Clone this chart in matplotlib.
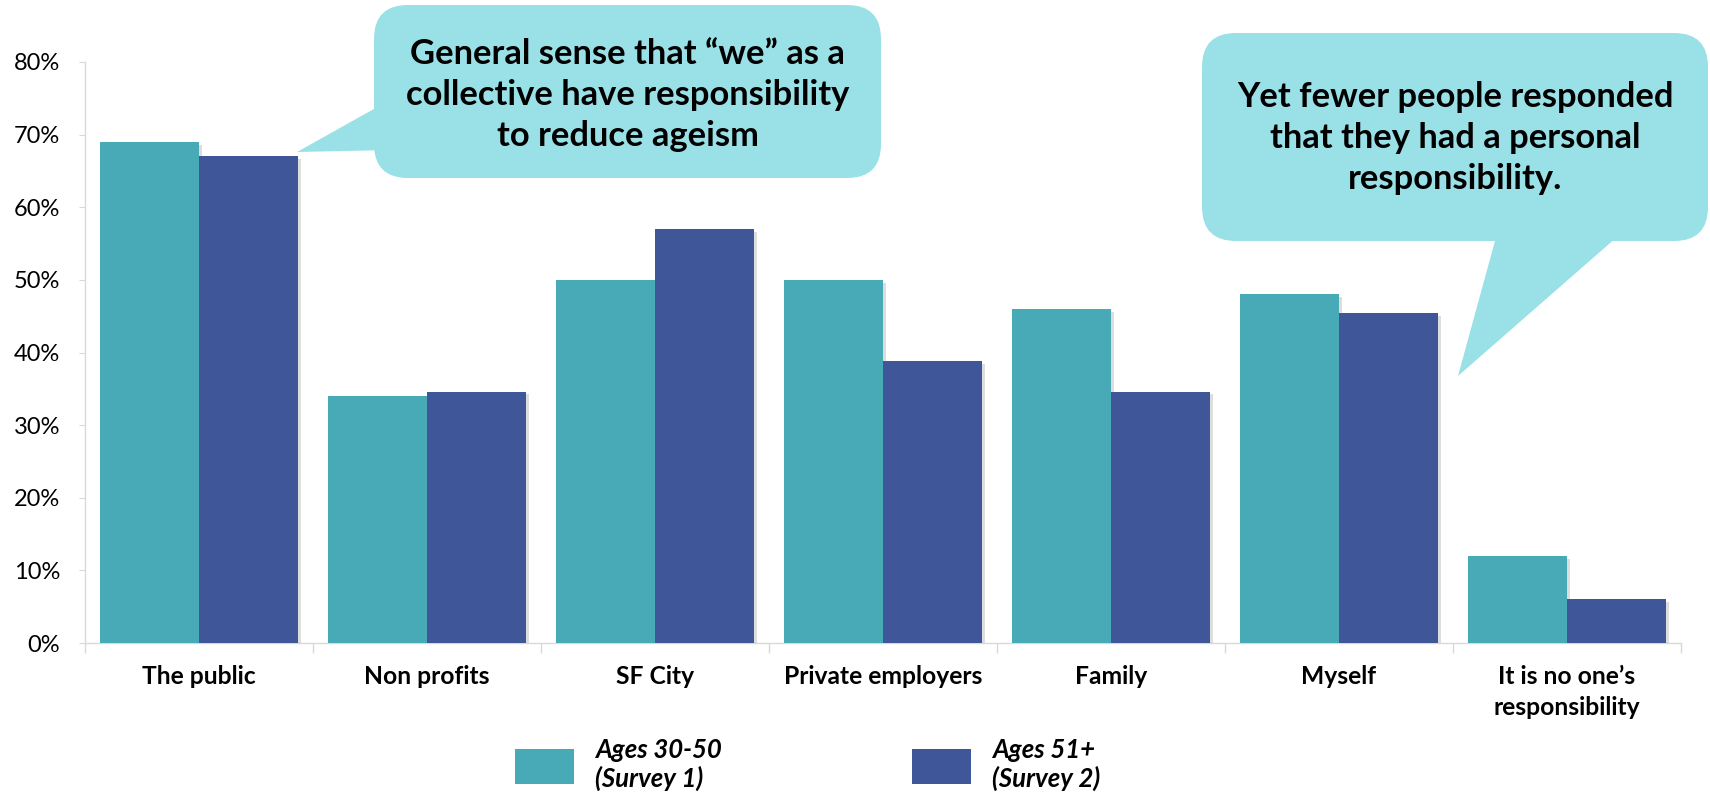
import matplotlib.pyplot as plt
import matplotlib.patheffects as pe
import numpy as np
from matplotlib.patches import FancyBboxPatch, Polygon, Patch

# responsibility for reducing ageism, % of respondents
categories = ["The public", "Non profits", "SF City", "Private employers",
              "Family", "Myself", "It is no one\u2019s\nresponsibility"]
ages_30_50 = [69, 34, 50, 50, 46, 48, 12]
ages_51_plus = [67, 34.6, 57, 38.8, 34.6, 45.4, 6]
series_labels = ["Ages 30-50\n(Survey 1)", "Ages 51+\n(Survey 2)"]
y_ticks = [0, 10, 20, 30, 40, 50, 60, 70, 80]

callout_left = "General sense that \u201cwe\u201d as a\ncollective have responsibility\nto reduce ageism"
callout_right = "Yet fewer people responded\nthat they had a personal\nresponsibility."

TEAL = "#47AAB6"
NAVY = "#3F5699"
BUBBLE = "#9AE0E7"
GRID = "#D9D9D9"
W, H = 1710, 792

plt.rcParams['font.family'] = ['Lato', 'DejaVu Sans']

fig = plt.figure(figsize=(W / 100, H / 100), dpi=100)
ax = fig.add_axes([85 / W, 1 - 643 / H, (1681 - 85) / W, (643 - 62) / H])

x = np.arange(len(categories))
bw = 0.433
shadow = [pe.SimplePatchShadow(offset=(2, -2), shadow_rgbFace="#909090", alpha=0.3), pe.Normal()]
b1 = ax.bar(x - bw / 2, ages_30_50, bw, color=TEAL, zorder=3)
b2 = ax.bar(x + bw / 2, ages_51_plus, bw, color=NAVY, zorder=3)
for rect in list(b1) + list(b2):
    rect.set_path_effects(shadow)

ax.set_xlim(-0.5, len(categories) - 0.5)
ax.set_ylim(0, 80)
ax.set_yticks(y_ticks)
ax.set_yticklabels([f"{v}%" for v in y_ticks], fontsize=17)
ax.set_xticks(x)
ax.set_xticklabels(categories, fontsize=17.7, fontweight='bold', linespacing=1.4, va='top')
ax.set_xticks(np.arange(len(categories) + 1) - 0.5, minor=True)
ax.tick_params(axis='x', which='major', length=0, pad=16)
ax.tick_params(axis='x', which='minor', length=7, color=GRID, width=1)
ax.tick_params(axis='y', length=4, color=GRID, pad=14)

for side in ['top', 'right']:
    ax.spines[side].set_visible(False)
for side in ['left', 'bottom']:
    ax.spines[side].set_color(GRID)
    ax.spines[side].set_linewidth(1)

# legend, one entry at a time
legend_spots = [(515, TEAL), (912, NAVY)]
for (lx, color), label in zip(legend_spots, series_labels):
    fig.legend(handles=[Patch(facecolor=color)], labels=[label],
               loc='upper left', bbox_to_anchor=(lx / W, 1 - 738 / H),
               frameon=False, borderpad=0, borderaxespad=0,
               handlelength=2.3, handleheight=1.75, handletextpad=0.8,
               labelspacing=0, prop={'size': 18.5, 'weight': 'bold', 'style': 'italic'})

# callout bubbles drawn in pixel space
ov = fig.add_axes([0, 0, 1, 1])
ov.set_xlim(0, W)
ov.set_ylim(H, 0)
ov.axis('off')

def bubble(x0, y0, x1, y1, tail, text, size, cy):
    ov.add_patch(FancyBboxPatch((x0, y0), x1 - x0, y1 - y0,
                                boxstyle="round,pad=0,rounding_size=34",
                                facecolor=BUBBLE, edgecolor='none'))
    ov.add_patch(Polygon(tail, closed=True, facecolor=BUBBLE, edgecolor='none'))
    ov.text((x0 + x1) / 2, cy, text, ha='center', va='center',
            fontsize=size, fontweight='bold', linespacing=1.36)

bubble(374, 5, 881, 178, [(297, 152), (390, 100), (390, 150)], callout_left, 24.8, 95)
bubble(1202, 33, 1708, 241, [(1458, 376), (1498, 230), (1625, 230)], callout_right, 24.8, 138)

fig.savefig("out.png", dpi=100)
